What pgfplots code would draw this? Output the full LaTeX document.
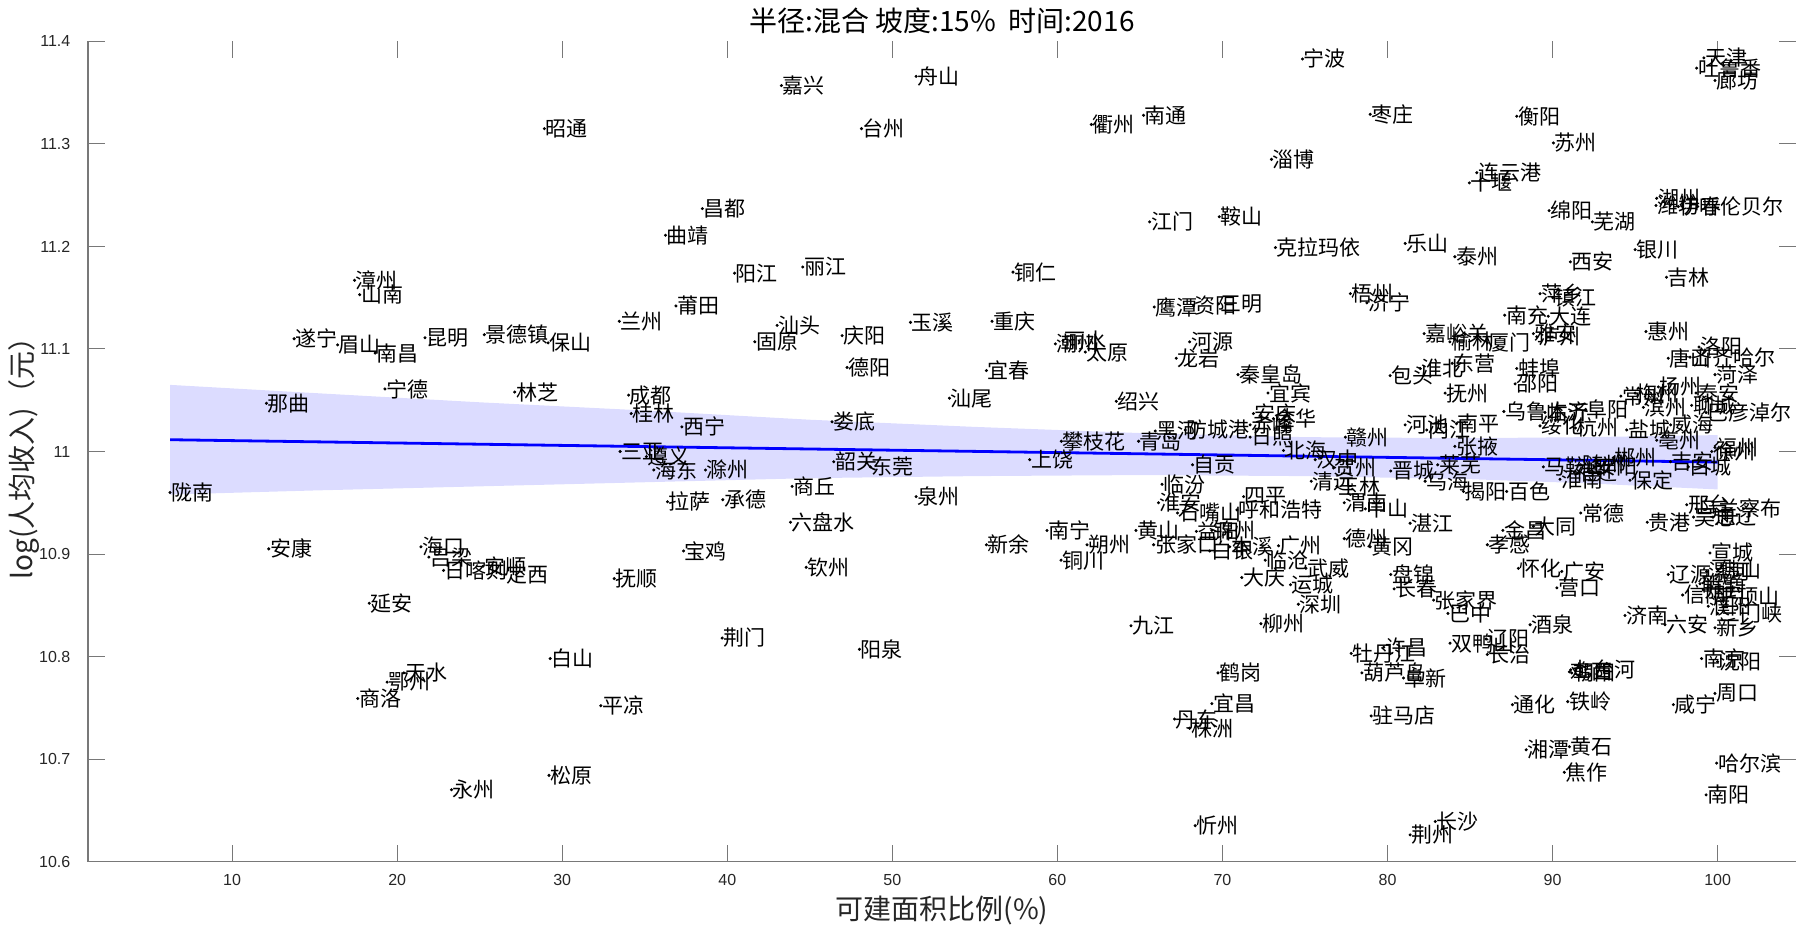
\documentclass[border=0pt]{standalone}
\usepackage{fontspec}
\setmainfont{Noto Sans CJK SC}
\newfontfamily\tickfont{Liberation Sans}
\usepackage{pgfplots}
\pgfplotsset{compat=1.18}
\definecolor{axgray}{RGB}{120,120,120}
\definecolor{txtgray}{RGB}{38,38,38}
\definecolor{bandfill}{RGB}{220,220,255}

\begin{document}
\begin{tikzpicture}
\begin{axis}[
  scale only axis,
  width=854pt, height=410pt,
  xmin=1.27, xmax=104.75,
  ymin=10.6, ymax=11.4,
  xtick={10,20,30,40,50,60,70,80,90,100},
  ytick={10.6,10.7,10.8,10.9,11,11.1,11.2,11.3,11.4},
  yticklabels={10.6,10.7,10.8,10.9,11,11.1,11.2,11.3,11.4},
  tick align=inside,
  major tick length=8.5pt,
  tick style={axgray, line width=0.5pt},
  axis line style={draw=none},
  /pgf/number format/assume math mode=true,
  ticklabel style={font=\tickfont\fontsize{8}{9}\selectfont, text=txtgray},
  yticklabel style={xshift=-5.3pt},
  xticklabel style={yshift=-3.1pt},
  title={半径:混合 坡度:15\%\ \ 时间:2016},
  title style={at={(axis description cs:0.5,1.0110)}, anchor=center, font=\fontsize{14}{16}\selectfont, text=black},
  xlabel={可建面积比例(\%)},
  xlabel style={at={(axis description cs:0.5,-0.0598)}, anchor=center, font=\fontsize{14}{16}\selectfont, text=txtgray},
  ylabel={log(人均收入)（元）},
  ylabel style={at={(axis description cs:-0.0375,0.5)}, anchor=center, rotate=0, font=\fontsize{14}{16}\selectfont, text=txtgray},
  clip=false,
]
% confidence band of the fit
\addplot[fill=bandfill, draw=none] coordinates {
  (6.24,11.065) (15,11.057) (25,11.048) (35,11.040) (45,11.031) (55,11.024)
  (65,11.018) (75,11.014) (85,11.013) (92,11.014) (100,11.016)
  (100,10.963) (92,10.969) (85,10.973) (75,10.976) (65,10.977) (55,10.976)
  (45,10.974) (35,10.970) (25,10.966) (15,10.962) (6.24,10.958)
};
% fitted line
\addplot[blue, line width=1.4pt] coordinates {(6.24,11.0115) (100,10.9896)};
% frame: left and bottom axis lines
\draw[axgray, line width=0.6pt] (rel axis cs:0,1) -- (rel axis cs:0,0) -- (rel axis cs:1,0);
% cities
\addplot[only marks, mark=*, mark size=0.55pt, black,
  nodes near coords, point meta=explicit symbolic,
  every node near coord/.append style={anchor=west, inner sep=0.5pt, font=\fontsize{10.5}{12}\selectfont, text=black}]
  table[x=x, y=y, meta=n] {
x y n
6.24 10.960 陇南
12.08 11.047 那曲
12.22 10.905 安康
13.76 11.110 遂宁
16.39 11.104 眉山
17.42 11.167 漳州
17.73 11.153 山南
17.61 10.759 商洛
18.31 10.852 延安
18.67 11.096 南昌
19.26 11.061 宁德
19.39 10.775 鄂州
20.41 10.784 天水
21.44 10.907 海口
21.69 11.111 昆明
21.92 10.897 吕梁
22.81 10.884 日喀则
23.29 10.670 永州
25.20 10.888 安顺
25.28 11.114 景德镇
26.52 10.880 定西
27.12 11.058 林芝
28.92 11.315 昭通
29.15 11.106 保山
29.20 10.684 松原
29.27 10.798 白山
32.34 10.752 平凉
33.15 10.876 抚顺
33.46 11.127 兰州
33.51 11.000 三亚
34.02 11.055 成都
34.18 11.037 桂林
35.10 10.995 遵义
35.55 10.982 海东
36.26 11.211 曲靖
36.38 10.951 拉萨
36.89 11.142 莆田
37.25 11.024 西宁
37.35 10.903 宝鸡
38.49 11.237 昌都
38.68 10.982 滁州
39.69 10.818 荆门
39.73 10.953 承德
40.44 11.174 阳江
41.67 11.107 固原
43.02 11.123 汕头
43.28 11.357 嘉兴
43.83 10.931 六盘水
43.93 10.966 商丘
44.57 11.180 丽江
44.78 10.887 钦州
46.35 11.029 娄底
46.45 10.990 韶关
46.96 11.113 庆阳
47.26 11.082 德阳
48.01 10.807 阳泉
48.13 11.315 台州
48.67 10.985 东莞
51.10 11.126 玉溪
51.44 11.366 舟山
51.44 10.956 泉州
53.46 11.052 汕尾
55.70 11.079 宜春
55.70 10.909 新余
56.04 11.127 重庆
57.31 11.175 铜仁
58.32 10.992 上饶
59.37 10.923 南宁
59.88 11.105 潮州
60.22 10.894 铜川
60.24 11.010 攀枝花
60.34 11.108 丽水
61.69 11.097 太原
61.80 10.909 朔州
62.06 11.319 衢州
63.57 11.049 绍兴
64.46 10.830 九江
64.76 10.923 黄山
64.92 11.010 青岛
65.22 11.328 南通
65.59 11.224 江门
65.83 10.909 张家口
65.87 11.141 鹰潭
65.93 11.020 黑河
66.13 10.950 淮安
66.34 10.968 临汾
67.10 10.739 丹东
67.20 11.091 龙岩
67.28 10.940 石嘴山
67.75 11.021 防城港
68.01 11.107 河源
68.01 10.730 株洲
68.19 10.987 自贡
68.25 11.142 资阳
68.35 10.635 忻州
68.42 10.922 益阳
69.36 10.923 锦州
69.23 10.903 白银
69.36 10.754 宜昌
69.73 10.784 鹤岗
69.77 11.144 三明
69.81 11.229 鞍山
70.44 10.907 本溪
70.88 10.943 呼和浩特
70.94 11.075 秦皇岛
71.17 10.877 大庆
71.28 10.956 四平
71.68 11.026 赤峰
71.68 11.014 日照
71.88 11.037 安庆
72.33 10.832 柳州
72.59 10.894 临沧
72.76 11.057 宜宾
72.97 11.285 淄博
73.09 11.032 金华
73.21 11.199 克拉玛依
73.40 10.908 广州
73.70 11.001 北海
74.12 10.870 运城
74.60 10.851 深圳
74.85 11.383 宁波
75.06 10.886 武威
75.38 10.971 清远
75.62 10.992 汉中
76.73 10.984 贺州
76.94 10.966 玉林
77.38 10.915 德州
77.38 10.950 渭南
77.45 11.014 赣州
77.75 11.154 梧州
77.80 10.803 牡丹江
78.45 10.784 葫芦岛
78.66 10.944 中山
78.75 11.145 济宁
78.95 11.329 枣庄
78.95 10.907 黄冈
79.01 10.742 驻马店
79.77 10.809 许昌
80.16 11.074 包头
80.20 10.981 晋城
80.20 10.880 盘锦
80.40 10.866 长春
80.97 10.779 阜新
81.07 11.203 乐山
81.07 11.026 河池
81.37 10.930 湛江
81.37 10.626 荆州
81.98 11.081 淮北
82.22 11.115 嘉峪关
82.28 10.971 乌海
82.38 11.021 内江
82.79 10.855 张家界
82.89 10.639 长沙
83.04 10.987 莱芜
83.49 11.057 抚州
83.66 10.842 巴中
83.78 11.107 榆林
83.79 10.813 双鸭山
83.92 11.086 东营
84.08 11.190 泰州
84.08 11.005 张掖
84.18 11.027 南平
84.60 10.961 揭阳
84.96 11.262 十堰
85.41 11.272 连云港
85.97 10.817 辽阳
86.05 11.106 厦门
86.05 10.909 孝感
86.05 10.802 长治
86.99 10.923 金昌
87.05 11.039 乌鲁木齐
87.10 11.133 南充
87.22 10.961 百色
87.57 10.753 通化
87.73 11.066 邵阳
87.83 11.081 蚌埠
87.83 11.327 衡阳
87.93 10.886 怀化
88.40 10.709 湘潭
88.64 10.831 酒泉
88.84 11.115 雅安
88.84 10.927 大同
89.04 11.112 泸州
89.24 11.154 萍乡
89.24 11.025 绥化
89.44 10.985 马鞍山
89.54 11.038 临沂
89.74 11.132 大连
89.79 11.235 绵阳
90.01 11.150 镇江
90.05 11.301 苏州
90.26 10.867 营口
90.45 10.973 淮南
90.56 10.883 广安
90.71 10.687 焦作
90.92 10.756 铁岭
91.02 10.712 黄石
91.02 10.785 鸡西
91.08 11.185 西安
91.16 10.784 朝阳
91.10 10.787 七台河
91.31 10.980 宿迁
91.39 11.023 杭州
91.71 10.987 随州
91.71 10.940 常德
92.00 11.041 阜阳
92.41 11.224 芜湖
92.52 10.985 安阳
93.68 10.994 郴州
94.14 11.054 常州
94.39 10.840 济南
94.49 11.021 盐城
94.69 10.972 保定
95.00 11.197 银川
95.00 11.057 梅州
95.50 11.043 滨州
95.66 11.117 惠州
95.74 10.931 贵港
96.27 11.240 潍坊
96.31 11.247 湖州
96.31 11.011 亳州
96.41 11.063 扬州
96.81 10.831 六安
96.90 11.170 吉林
97.01 11.091 唐山
97.01 10.880 辽源
97.15 10.990 吉安
97.15 11.026 威海
97.32 10.753 咸宁
97.62 11.239 伊春
97.88 10.860 信阳
98.13 10.948 邢台
98.22 10.985 白城
98.33 11.092 齐齐哈尔
98.43 11.045 聊城
98.54 10.936 吴忠
98.69 11.057 泰安
98.70 10.944 乌兰察布
98.73 11.374 吐鲁番
98.79 11.239 呼伦贝尔
98.87 11.102 洛阳
98.93 10.871 鹤壁
99.03 10.798 南京
99.13 10.865 开封
99.17 11.384 天津
99.30 10.665 南阳
99.30 11.038 巴彦淖尔
99.34 10.883 漯河
99.43 10.849 濮阳
99.54 10.901 宣城
99.64 11.000 徐州
99.72 10.936 通辽
99.84 11.362 廊坊
99.84 11.075 菏泽
99.84 11.004 福州
99.84 10.764 周口
99.84 10.828 新乡
99.84 10.858 平顶山
99.94 10.696 哈尔滨
100.0 10.795 沈阳
100.0 10.842 三门峡
100.0 10.885 佛山
};
\end{axis}
\pgfresetboundingbox
\path ([xshift=-44pt,yshift=-32.25pt]current axis.south west) rectangle ([yshift=20.75pt]current axis.north east);
\end{tikzpicture}
\end{document}
